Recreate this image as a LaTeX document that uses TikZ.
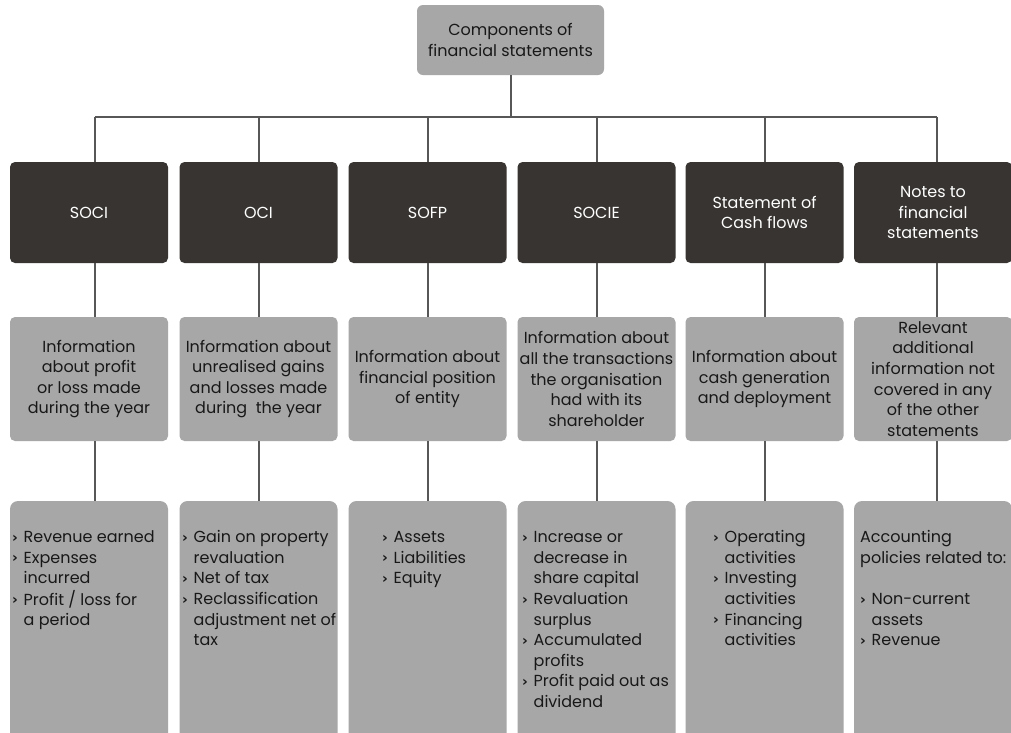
\documentclass[tikz,border=0pt]{standalone}
\usepackage{fontspec}
\setmainfont{Poppins}
\newfontfamily\symfont{DejaVu Sans Bold}
\definecolor{boxgray}{HTML}{A7A7A7}
\definecolor{darkfill}{HTML}{383431}
\definecolor{linegray}{HTML}{575757}
\definecolor{txt}{HTML}{181818}
\newcommand\figfont{\fontsize{16}{20.6}\selectfont}
\newcommand\bul{\makebox[11.5pt][l]{\raisebox{0.3pt}{\symfont\fontsize{14}{14}\selectfont ›}}}
\begin{document}
\begin{tikzpicture}[x=1pt,y=-1pt,
  topbox/.style={fill=boxgray, rounded corners=6pt, minimum width=187pt, minimum height=70pt, align=center, text=txt, inner sep=0pt, font=\figfont},
  darkbox/.style={fill=darkfill, rounded corners=5pt, minimum width=158pt, minimum height=101pt, align=center, text=white, inner sep=0pt, font=\figfont},
  infobox/.style={fill=boxgray, rounded corners=5pt, minimum width=158pt, minimum height=124pt, align=center, text=txt, inner sep=0pt, font=\figfont},
  listbox/.style={fill=boxgray, rounded corners=8pt, minimum width=158pt, minimum height=244pt, inner sep=0pt},
  listtext/.style={anchor=north west, align=left, text=txt, inner sep=0pt, font=\figfont},
  link/.style={draw=linegray, line width=2pt}]
\useasboundingbox (0,0) rectangle (1011,732);
\fill[white] (0,0) rectangle (1011,732);

\node[topbox] (top) at (510.5,40) {Components of\\financial statements};

% row 1
\node[darkbox] (r1a) at (89,212.5) {SOCI};
\node[darkbox] (r1b) at (258.5,212.5) {OCI};
\node[darkbox] (r1c) at (427.5,212.5) {SOFP};
\node[darkbox] (r1d) at (596.5,212.5) {SOCIE};
\node[darkbox] (r1e) at (764.5,212.5) {Statement of\\Cash flows};
\node[darkbox] (r1f) at (933,212.5) {Notes to\\financial\\statements};

% row 2
\node[infobox] (r2a) at (89,379) {Information\\about profit\\or loss made\\during the year};
\node[infobox] (r2b) at (258.5,379) {Information about\\unrealised gains\\and losses made\\during\ \ the year};
\node[infobox] (r2c) at (427.5,379) {Information about\\financial position\\of entity};
\node[infobox] (r2d) at (596.5,379) {Information about\\all the transactions\\the organisation\\had with its\\shareholder};
\node[infobox] (r2e) at (764.5,379) {Information about\\cash generation\\and deployment};
\node[infobox] (r2f) at (933,379) {Relevant\\additional\\information not\\covered in any\\of the other\\statements};

% row 3
\node[listbox] (r3a) at (89,623) {};
\node[listbox] (r3b) at (258.5,623) {};
\node[listbox] (r3c) at (427.5,623) {};
\node[listbox] (r3d) at (596.5,623) {};
\node[listbox] (r3e) at (764.5,623) {};
\node[listbox] (r3f) at (933,623) {};

\node[listtext] (t3a) at (12,528) {\begin{tabular}{@{}l@{}l@{}}
\bul & Revenue earned\\ \bul & Expenses\\ & incurred\\ \bul & Profit / loss for\\ & a period\end{tabular}};
\node[listtext] (t3b) at (182,528) {\begin{tabular}{@{}l@{}l@{}}
\bul & Gain on property\\ & revaluation\\ \bul & Net of tax\\ \bul & Reclassification\\ & adjustment net of\\ & tax\end{tabular}};
\node[listtext] (t3c) at (382,528) {\begin{tabular}{@{}l@{}l@{}}
\bul & Assets\\ \bul & Liabilities\\ \bul & Equity\end{tabular}};
\node[listtext] (t3d) at (522,528) {\begin{tabular}{@{}l@{}l@{}}
\bul & Increase or\\ & decrease in\\ & share capital\\ \bul & Revaluation\\ & surplus\\ \bul & Accumulated\\ & profits\\ \bul & Profit paid out as\\ & dividend\end{tabular}};
\node[listtext] (t3e) at (713,528) {\begin{tabular}{@{}l@{}l@{}}
\bul & Operating\\ & activities\\ \bul & Investing\\ & activities\\ \bul & Financing\\ & activities\end{tabular}};
\node[listtext] (t3f) at (860,528) {\begin{tabular}{@{}l@{}l@{}}
\multicolumn{2}{@{}l@{}}{Accounting}\\ \multicolumn{2}{@{}l@{}}{policies related to:}\\ \\ \bul & Non-current\\ & assets\\ \bul & Revenue\end{tabular}};

% connectors
\coordinate (bar) at (510.5,117);
\draw[link] (top.south) -- (top.south |- bar);
\draw[link] ([xshift=6pt]r1a.north |- bar) -- ([xshift=4pt]r1f.north |- bar);
\foreach \c/\s in {a/6pt,b/0pt,c/0pt,d/0pt,e/0pt,f/4pt}{
  \draw[link] ([xshift=\s]r1\c.north |- bar) -- ([xshift=\s]r1\c.north);
  \draw[link] ([xshift=\s]r1\c.south) -- ([xshift=\s]r2\c.north);
  \draw[link] ([xshift=\s]r2\c.south) -- ([xshift=\s]r3\c.north);
}
\end{tikzpicture}
\end{document}
